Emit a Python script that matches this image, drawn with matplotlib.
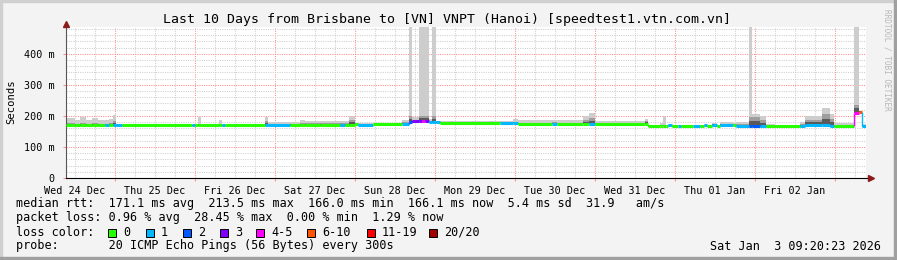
import matplotlib
matplotlib.use("Agg")
import matplotlib.pyplot as plt
from matplotlib.patches import Rectangle

W, H = 897, 260

# ---------------- data ----------------
# segment start, hours after Wed 24 Dec 09:20 (window = 240 h)
seg_start_h = [0.0, 2.7, 4.2, 6.0, 7.8, 9.6, 11.7, 12.9, 14.1, 15.0,
               16.8, 37.8, 38.7, 39.6, 40.5, 45.9, 46.8, 47.7, 59.7, 60.6,
               67.2, 70.2, 71.7, 76.2, 82.2, 83.7, 84.9, 86.7, 87.6, 92.1,
               100.8, 102.9, 103.8, 105.9, 106.8, 107.7, 108.9, 109.8, 111.0, 112.2,
               130.2, 134.1, 135.6, 145.8, 147.3, 155.1, 156.9, 158.7, 173.7, 174.6,
               178.2, 179.1, 180.0, 180.6, 181.8, 183.6, 184.5, 188.1, 190.2, 191.4,
               192.3, 193.8, 195.3, 196.2, 200.1, 201.0, 204.9, 205.8, 208.2, 210.0,
               212.7, 220.2, 221.7, 226.8, 229.2, 230.4, 236.4, 237.9, 238.8]
window_end_h = 240.0
# median rtt (ms)
seg_median_ms = [169, 169, 169, 169, 169, 169, 169, 169, 169, 169,
                 169, 169, 169, 169, 169, 169, 169, 169, 169, 169,
                 169, 169, 169, 169, 169, 169, 169, 174, 170, 174,
                 174, 180, 182, 182, 182, 182, 179, 179, 179, 178,
                 178, 178, 174, 174, 174, 174, 174, 175, 175, 166,
                 168, 167, 167, 170, 166, 167, 166, 167, 166, 170,
                 166, 170, 166, 170, 170, 168, 166, 166, 166, 166,
                 166, 166, 170, 172, 166, 166, 210, 214, 166]
# loss class index (0:"0",1:"1",2:"2",3:"3",4:"4-5",5:"6-10",6:"11-19",7:"20/20")
seg_loss_class = [0, 0, 0, 0, 0, 0, 1, 0, 1, 1,
                  0, 1, 0, 0, 0, 0, 1, 0, 1, 1,
                  0, 0, 0, 0, 1, 0, 0, 0, 1, 0,
                  1, 2, 3, 3, 4, 3, 1, 1, 1, 0,
                  1, 1, 0, 1, 0, 0, 1, 0, 0, 0,
                  0, 0, 0, 1, 0, 1, 0, 1, 0, 1,
                  0, 1, 0, 1, 0, 1, 2, 2, 1, 0,
                  0, 1, 1, 1, 1, 0, 4, 5, 1]
# highest ping (ms) - top of the smoke
seg_smoke_hi_ms = [192, 187, 195, 186, 193, 188, 188, 190, 204, 174,
                   172, 172, 172, 195, 172, 188, 172, 172, 195, 180,
                   181, 186, 182, 185, 184, 185, 201, 178, 176, 177,
                   188, 487, 195, 487, 487, 487, 190, 487, 185, 184,
                   182, 190, 186, 188, 186, 200, 210, 183, 190, 172,
                   176, 198, 170, 175, 169, 170, 168, 170, 168, 173,
                   168, 178, 170, 180, 178, 180, 487, 207, 200, 175,
                   172, 180, 200, 226, 205, 176, 487, 216, 175]
# upper quartile ping (ms) - dense part of the smoke
seg_smoke_q_ms = [176, 175, 178, 175, 177, 175, 175, 176, 185, 171,
                  170, 170, 170, 174, 170, 173, 170, 170, 183, 174,
                  175, 178, 176, 177, 177, 178, 188, 176, 172, 175,
                  180, 200, 186, 200, 200, 200, 182, 200, 181, 180,
                  179, 181, 178, 179, 178, 188, 192, 178, 184, 168,
                  172, 172, 168, 172, 167, 168, 167, 168, 167, 171,
                  167, 174, 168, 175, 173, 174, 195, 195, 188, 170,
                  168, 174, 188, 205, 190, 170, 235, 215, 170]

loss_labels = ["0", "1", "2", "3", "4-5", "6-10", "11-19", "20/20"]
loss_colors = ["#26ff00", "#00b8ff", "#0059ff", "#7e00ff",
               "#ff00ff", "#ff5500", "#ff0000", "#a10000"]

day_labels = ["Wed 24 Dec", "Thu 25 Dec", "Fri 26 Dec", "Sat 27 Dec", "Sun 28 Dec",
              "Mon 29 Dec", "Tue 30 Dec", "Wed 31 Dec", "Thu 01 Jan", "Fri 02 Jan"]
first_midnight_h = 14.667
y_tick_vals = [0, 100, 200, 300, 400]
y_tick_labels = ["0", "100 m", "200 m", "300 m", "400 m"]
y_max_ms = 486

title = "Last 10 Days from Brisbane to [VN] VNPT (Hanoi) [speedtest1.vtn.com.vn]"
median_line = "median rtt:  171.1 ms avg  213.5 ms max  166.0 ms min  166.1 ms now  5.4 ms sd  31.9   am/s"
loss_line = "packet loss: 0.96 % avg  28.45 % max  0.00 % min  1.29 % now"
probe_line = "probe:       20 ICMP Echo Pings (56 Bytes) every 300s"
stamp = "Sat Jan  3 09:20:23 2026"

# ---------------- figure ----------------
MONO = "DejaVu Sans Mono"
fig = plt.figure(figsize=(W / 100, H / 100), dpi=100)
fig.patch.set_facecolor("#f3f3f3")

def fx(x):
    return x / W

def fy(y):
    return 1 - y / H

# 3D frame
fig.patches.append(Rectangle((0, fy(2)), 1, 2 / H, transform=fig.transFigure, color="#d0d0d0", zorder=0))
fig.patches.append(Rectangle((0, 0), 2 / W, 1, transform=fig.transFigure, color="#d0d0d0", zorder=0))
fig.patches.append(Rectangle((0, 0), 1, 3 / H, transform=fig.transFigure, color="#a0a0a0", zorder=0))
fig.patches.append(Rectangle((fx(894), 0), 3 / W, 1, transform=fig.transFigure, color="#a0a0a0", zorder=0))

ax = fig.add_axes([fx(66), fy(178), 800 / W, 151 / H])
ax.set_facecolor("white")
ax.set_xlim(0, window_end_h)
ax.set_ylim(0, y_max_ms)

# grid
GDOT = (0, (1, 1.2))
h = first_midnight_h - 12
while h < window_end_h:
    is_major = abs(((h - first_midnight_h) / 24) - round((h - first_midnight_h) / 24)) < 1e-6
    ax.axvline(h, color="#ff8c8c" if is_major else "#cfcfcf", lw=0.75, ls=GDOT, zorder=0)
    h += 6
for v in range(20, y_max_ms, 20):
    ax.axhline(v, color="#ff8c8c" if v % 100 == 0 else "#cfcfcf", lw=0.75, ls=GDOT, zorder=0)

# smoke
edges = seg_start_h + [window_end_h]
med_s = seg_median_ms + [seg_median_ms[-1]]
hi_s = seg_smoke_hi_ms + [seg_smoke_hi_ms[-1]]
q_s = seg_smoke_q_ms + [seg_smoke_q_ms[-1]]
dark_s = [m + (q - m) * 0.55 for m, q in zip(med_s, q_s)]
lo_s = [m - 1 for m in med_s]
ax.fill_between(edges, lo_s, hi_s, step="post", color="#cdcdcd", lw=0, zorder=1)
ax.fill_between(edges, lo_s, q_s, step="post", color="#9e9e9e", lw=0, zorder=2)
ax.fill_between(edges, lo_s, dark_s, step="post", color="#5a5a5a", lw=0, zorder=3)

# median line coloured by loss
for i, (s, m, c) in enumerate(zip(seg_start_h, seg_median_ms, seg_loss_class)):
    e = edges[i + 1]
    ax.hlines(m, s, e, color=loss_colors[c], lw=2.2, zorder=5, capstyle="butt")
    if i > 0 and seg_median_ms[i - 1] != m:
        ax.vlines(s, seg_median_ms[i - 1], m, color=loss_colors[c], lw=1.0, zorder=5)

# axes
for sp in ["top", "right"]:
    ax.spines[sp].set_visible(False)
ax.spines["left"].set_color("#555555")
ax.spines["left"].set_linewidth(0.8)
ax.spines["bottom"].set_visible(False)
ax.plot([0, 241.2], [0, 0], color="black", lw=0.8, clip_on=False, zorder=6)
ax.plot([241.4], [0], marker=">", color="#8b1a1a", markersize=4.2, clip_on=False, zorder=7)
ax.plot([0], [y_max_ms + 11], marker="^", color="#8b1a1a", markersize=4.2, clip_on=False, zorder=7)
ax.plot([0, 0], [y_max_ms, y_max_ms + 9], color="#555555", lw=0.8, clip_on=False)

noon = [first_midnight_h - 12 + 24 * k for k in range(len(day_labels))]
ax.set_xticks(noon)
ax.set_xticklabels(day_labels, fontfamily=MONO, fontsize=7.3)
ax.tick_params(axis="x", which="major", length=0, pad=5.5)
ax.set_xticks([first_midnight_h + 24 * k for k in range(10)], minor=True)
ax.tick_params(axis="x", which="minor", length=2, color="#ff8c8c", width=0.75)
ax.set_yticks(y_tick_vals)
ax.set_yticklabels(y_tick_labels, fontfamily=MONO, fontsize=7.3)
ax.tick_params(axis="y", length=2, color="#ff8c8c", width=0.75, pad=6)

# texts
fig.text(fx(447), fy(19), title, ha="center", va="center", fontfamily=MONO, fontsize=9.5)
fig.text(fx(11), fy(102), "Seconds", rotation=90, ha="center", va="center", fontfamily=MONO, fontsize=7.6)
fig.text(fx(887), fy(60), "RRDTOOL / TOBI OETIKER", rotation=270, ha="center", va="center",
         fontfamily=MONO, fontsize=5.6, color="#b8b8b8")

LF = 8.5
fig.text(fx(16), fy(204), median_line, ha="left", va="center", fontfamily=MONO, fontsize=LF)
fig.text(fx(16), fy(218), loss_line, ha="left", va="center", fontfamily=MONO, fontsize=LF)
fig.text(fx(16), fy(232), "loss color:", ha="left", va="center", fontfamily=MONO, fontsize=LF)
fig.text(fx(16), fy(246), probe_line, ha="left", va="center", fontfamily=MONO, fontsize=LF)
fig.text(fx(881), fy(246), stamp, ha="right", va="center", fontfamily=MONO, fontsize=LF)

box_x = [108, 146, 183, 220, 256, 307, 367, 429]
for bx, lab, col in zip(box_x, loss_labels, loss_colors):
    fig.patches.append(Rectangle((fx(bx), fy(237)), 8 / W, 8 / H, transform=fig.transFigure,
                                 facecolor=col, edgecolor="black", lw=0.7))
    fig.text(fx(bx + 15), fy(232), lab, ha="left", va="center", fontfamily=MONO, fontsize=LF)

fig.savefig("out.png", dpi=100, facecolor=fig.get_facecolor())
